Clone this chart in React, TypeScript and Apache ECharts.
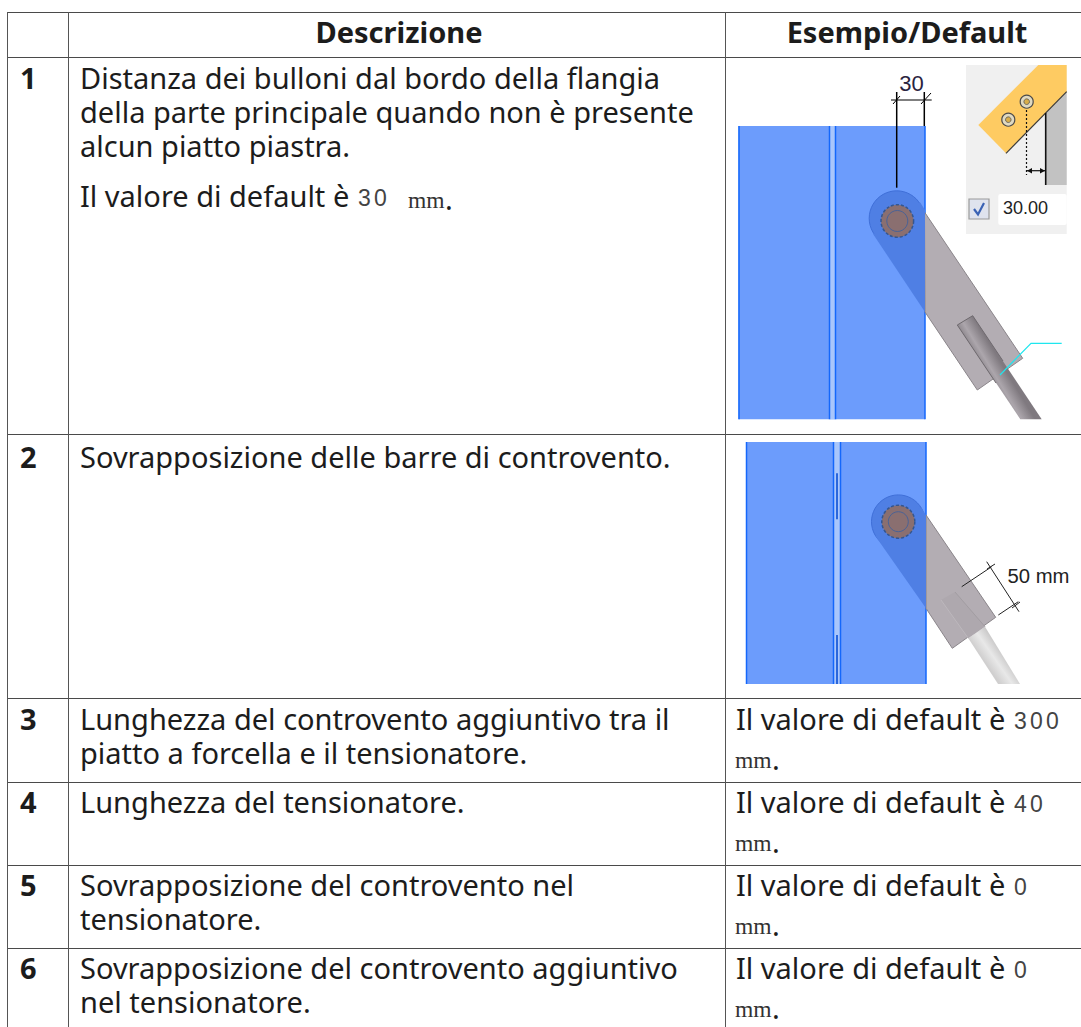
import React, { useEffect, useRef } from "react";
import * as echarts from "echarts";

const headers = ["Descrizione", "Esempio/Default"];
const rowNumbers = ["1", "2", "3", "4", "5", "6"];
const descriptionCells = [
  "Distanza dei bulloni dal bordo della flangia\ndella parte principale quando non è presente\nalcun piatto piastra.",
  "Il valore di default è",
  "Sovrapposizione delle barre di controvento.",
  "Lunghezza del controvento aggiuntivo tra il\npiatto a forcella e il tensionatore.",
  "Lunghezza del tensionatore.",
  "Sovrapposizione del controvento nel\ntensionatore.",
  "Sovrapposizione del controvento aggiuntivo\nnel tensionatore.",
];
const descriptionY = [60, 178, 439, 701, 784, 867, 950];
const rowNumberY = [79, 458, 720, 803, 886, 969];
const defaultValues = ["300", "40", "0", "0"];
const defaultY = [720, 803, 886, 969];
const hLines = [12, 57, 434, 698, 782, 865, 948];

const SANS = "'Noto Sans'";
const INK = "#1c1c1c";
const els: any[] = [];

const text = (t: string, x: number, y: number, o: any = {}) =>
  els.push({
    type: "text", x, y, silent: true,
    style: {
      text: t, fill: o.fill ?? INK, fontFamily: o.family ?? SANS,
      fontSize: o.size ?? 29, fontWeight: o.weight ?? "normal",
      align: o.align ?? "left", verticalAlign: o.valign ?? "middle",
      lineHeight: o.lineHeight,
    },
  });
const ln = (x1: number, y1: number, x2: number, y2: number, stroke = "#000", lineWidth = 1, lineDash?: number[]) =>
  els.push({ type: "line", silent: true, shape: { x1, y1, x2, y2 }, style: { stroke, lineWidth, lineDash } });
const poly = (points: number[][], fill: any, stroke?: string, lineWidth = 1) =>
  els.push({ type: "polygon", silent: true, shape: { points }, style: { fill, stroke, lineWidth } });
const pline = (points: number[][], stroke: string, lineWidth = 1) =>
  els.push({ type: "polyline", silent: true, shape: { points }, style: { stroke, lineWidth, fill: "none" } });
const rect = (x: number, y: number, width: number, height: number, fill: string, stroke?: string, lineWidth = 1, r = 0) =>
  els.push({ type: "rect", silent: true, shape: { x, y, width, height, r }, style: { fill, stroke, lineWidth } });
const circ = (cx: number, cy: number, r: number, fill: string, stroke?: string, lineWidth = 1, lineDash?: number[]) =>
  els.push({ type: "circle", silent: true, shape: { cx, cy, r }, style: { fill, stroke, lineWidth, lineDash } });

const monoChars = (t: string, x: number, y: number) =>
  t.split("").forEach((c, i) =>
    text(c, x + i * 16, y, { family: "'Liberation Sans'", size: 23, fill: "#444" }));
const mm = (x: number, y: number) => {
  text("mm", x, y, { family: "'Liberation Serif'", size: 23.5, fill: "#333" });
  text(".", x + 37, y - 2, {});
};

// table text
headers.forEach((h, i) => text(h, i === 0 ? 399 : 907, 31, { weight: "bold", align: "center" }));
rowNumbers.forEach((n, i) => text(n, 20, rowNumberY[i] - 1.5, { weight: "bold" }));
descriptionCells.forEach((l, i) => text(l, 80, descriptionY[i], { valign: "top", lineHeight: 34 }));
monoChars("30", 358, 198);
mm(408, 200);
defaultValues.forEach((v, i) => {
  text(descriptionCells[1], 736, defaultY[i] - 1.5);
  monoChars(v, 1014, defaultY[i] + 1);
  mm(735, defaultY[i] + 40);
});

// first picture
const BLUE = "#6c9cfc";
const EDGE = "#1467fb";
const LIGHT = "#a9c6fb";
const DARK = "#4f7fe4";
const PLATE = "#b3adb3";
const rod = new echarts.graphic.LinearGradient(957.3, 325, 972.7, 315.7, [
  { offset: 0, color: "#8f898f" }, { offset: 0.35, color: "#aca6ac" }, { offset: 1, color: "#7f797f" },
], true);
rect(738.5, 126, 186.5, 293.3, BLUE);
ln(739, 126, 739, 419.3, EDGE, 1.5);
ln(925, 126, 925, 419.3, EDGE, 1.5);
rect(830, 126, 5, 293.3, LIGHT);
ln(829.5, 126, 829.5, 419.3, EDGE, 1.5);
ln(835.5, 126, 835.5, 419.3, EDGE, 1.5);
poly([[924.5, 212], [1022.7, 358.3], [977.3, 390], [925, 312]], PLATE, "#8a858a");
poly([[957.3, 325], [972.7, 315.7], [1041.7, 419.3], [1020.3, 419.3]], rod);
pline([[996, 383], [957.3, 325], [972.7, 315.7], [1003, 361]], "#6d686d");
circ(896.7, 218.3, 27.5, DARK, "#3f6fd8");
poly([[920.2, 202.5], [925, 210], [925, 312], [873.2, 234.2]], DARK);
circ(897.3, 221, 16.3, "#8a6f70", "#35568f", 1.5, [3, 2]);
circ(897.3, 221, 10.5, "#8a6f70", "#4a6296", 1);
ln(896.7, 92, 896.7, 187.7, "#000", 1.5);
ln(924.3, 92, 924.3, 126, "#000", 1.5);
ln(891, 100, 931.7, 100, "#000", 1.2);
ln(893, 104, 900, 96, "#000", 1);
ln(921, 104, 931, 93, "#000", 1);
text("30", 911.5, 83, { family: "'Liberation Sans'", size: 22, align: "center", fill: "#2a2340" });
pline([[1000, 375], [1031, 343.3], [1061.7, 343.3]], "#1fe6ee", 1.2);

// inset
rect(966, 65, 100.7, 169, "#f0f0f0");
poly([[1045.7, 113], [1066.7, 91.7], [1066.7, 185], [1045.7, 185]], "#c2c2c2");
poly([[1038.3, 65], [1066.7, 65], [1066.7, 91.7], [1006, 153.3], [978.3, 125]], "#fecb62");
ln(1006, 153.3, 1066.7, 91.7, "#3a3a3a", 1.2);
ln(1045.7, 113, 1045.7, 185, "#111", 1.6);
ln(1026.5, 110, 1026.5, 175, "#111", 1.2, [2, 2]);
ln(1027, 170.7, 1045, 170.7, "#111", 1.2);
poly([[1027, 170.7], [1032, 168], [1032, 173.4]], "#111");
poly([[1045, 170.7], [1040, 168], [1040, 173.4]], "#111");
[[1026.7, 101.7], [1008.3, 119.7]].forEach(([x, y]) => {
  circ(x, y, 6.5, "#e0d9c0", "#4a4a4a", 1.2);
  circ(x, y, 2.8, "#d9ae4a", "#555", 0.8);
});
rect(969, 199, 20, 20, "#dfe3ee", "#9a9a9a", 1.2);
pline([[974, 209], [978, 214.5], [984, 203]], "#3a62b4", 2.2);
rect(998.3, 194, 68.4, 31, "#ffffff", undefined, 1, 2);
text("30.00", 1003, 207.5, { family: "'Liberation Sans'", size: 18, fill: "#222" });

// second picture
const rodLight = new echarts.graphic.LinearGradient(968.3, 638.3, 985, 626.7, [
  { offset: 0, color: "#d0cfcf" }, { offset: 0.5, color: "#e8e8e8" }, { offset: 1, color: "#c9c8c8" },
], true);
rect(746, 442, 180, 242, BLUE);
ln(746.5, 442, 746.5, 684, EDGE, 1.5);
ln(926, 442, 926, 684, EDGE, 1.5);
rect(834, 442, 6, 242, LIGHT);
ln(833.5, 442, 833.5, 684, EDGE, 1.5);
ln(840.5, 442, 840.5, 684, EDGE, 1.5);
ln(837, 473.3, 837, 519.3, "#2a66dc", 2);
ln(837, 635, 837, 684, "#2a66dc", 2);
poly([[985, 626.7], [968.3, 638.3], [998, 684], [1020, 684]], rodLight);
poly([[926, 515], [995.7, 617.3], [952.3, 648.3], [926, 608.3]], PLATE, "#8a858a");
poly([[941, 600], [955, 592], [985, 626.7], [968.3, 638.3]], "#aea8ae");
ln(941, 600, 968.3, 638.3, "#bdb8bd", 1);
ln(955, 592, 985, 626.7, "#a29da2", 1);
circ(898.3, 521.7, 26.8, DARK, "#3f6fd8");
poly([[921, 507.5], [926, 515], [926, 608.3], [875.7, 536.5]], DARK);
circ(898.3, 521.7, 16.5, "#8a6f70", "#35568f", 1.5, [3, 2]);
circ(898.3, 521.7, 10, "#8a6f70", "#4a6296", 1);
ln(961.7, 586.7, 991.7, 566.7, "#222", 1);
ln(998.3, 615, 1018.3, 601.7, "#222", 1);
ln(986.7, 561.7, 1019, 611.7, "#222", 1);
ln(987, 569, 995, 564, "#222", 1);
ln(1012, 608, 1020, 602, "#222", 1);
text("50 mm", 1007.5, 575.5, { family: "'Liberation Sans'", size: 20.3, fill: "#222" });

// table rules
hLines.forEach((y) => ln(7, y + 0.5, 1081, y + 0.5, "#4a4a4a", 1));
[7.5, 68.5, 725.5].forEach((x) => ln(x, 12, x, 1027, "#555", 1));

export default function App() {
  const ref = useRef<HTMLDivElement>(null);
  useEffect(() => {
    const chart = echarts.init(ref.current!, undefined, { renderer: "svg" });
    chart.setOption({ animation: false, backgroundColor: "#ffffff", graphic: { elements: els } });
    return () => chart.dispose();
  }, []);
  return <div ref={ref} style={{ position: "fixed", left: 0, top: 0, width: 1081, height: 1027 }} />;
}
